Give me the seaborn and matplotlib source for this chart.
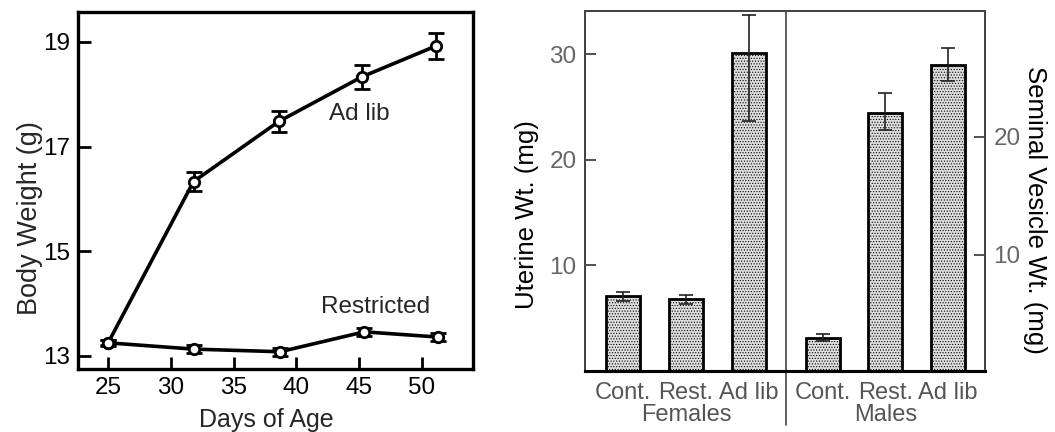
import numpy as np
import pandas as pd
import matplotlib
matplotlib.use("Agg")
import matplotlib.pyplot as plt
import matplotlib.transforms as mtransforms
import seaborn as sns

# ---------------- data ----------------
days_adlib = [25, 31.8, 38.6, 45.2, 51.1]
wt_adlib = [13.25, 16.33, 17.48, 18.33, 18.92]
err_adlib = [0.05, 0.18, 0.2, 0.23, 0.25]

days_restr = [25, 31.8, 38.7, 45.4, 51.3]
wt_restr = [13.25, 13.13, 13.08, 13.46, 13.36]
err_restr = [0.06, 0.08, 0.08, 0.08, 0.08]

body_yticks = [13, 15, 17, 19]
body_xticks = [25, 30, 35, 40, 45, 50]

groups = ["Cont.", "Rest.", "Ad lib"]
female_uterine = [7.05, 6.75, 30.1]
female_lo = [6.6, 6.35, 23.65]
female_hi = [7.5, 7.2, 33.7]
male_sv = [2.98, 21.98, 26.06]
male_lo = [2.73, 20.57, 24.65]
male_hi = [3.33, 23.7, 27.47]
uterine_ticks = [10, 20, 30]
sv_ticks = [10, 20]

# ---------------- style ----------------
sns.set_theme(style="ticks")
plt.rcParams["font.family"] = ["Liberation Sans", "DejaVu Sans"]
plt.rcParams["hatch.color"] = "#a0a0a0"
plt.rcParams["hatch.linewidth"] = 0.5

fig = plt.figure(figsize=(10.55, 4.32), dpi=100)

# ---------------- left: body weight ----------------
ax = fig.add_axes([78 / 1055, 1 - 369 / 432, 395 / 1055, 357 / 432])
df_a = pd.DataFrame({"day": days_adlib, "wt": wt_adlib})
df_r = pd.DataFrame({"day": days_restr, "wt": wt_restr})
for df, err in ((df_a, err_adlib), (df_r, err_restr)):
    ax.errorbar(df["day"], df["wt"], yerr=err, fmt="none", ecolor="black",
                elinewidth=2.0, capsize=5.5, capthick=2.0, zorder=2)
    sns.lineplot(data=df, x="day", y="wt", ax=ax, color="black", linewidth=2.6,
                 marker="o", markersize=7.5, markerfacecolor="white",
                 markeredgecolor="black", markeredgewidth=2.0, zorder=3)
ax.set_xlim(22.6, 54.06)
ax.set_ylim(12.75, 19.57)
ax.set_xticks(body_xticks)
ax.set_yticks(body_yticks)
ax.set_yticklabels([str(t) for t in body_yticks])
ax.tick_params(direction="in", length=9, width=2, labelsize=17.5, colors="black", pad=6)
for s in ax.spines.values():
    s.set_linewidth(2.4)
    s.set_color("black")
ax.set_xlabel("Days of Age", fontsize=18, va="center")
ax.set_ylabel("Body Weight (g)", fontsize=19.5, va="center")
ax.xaxis.set_label_coords(0.478, -0.143)
ax.yaxis.set_label_coords(-0.122, 0.423)
ax.text(45.0, 17.62, "Ad lib", fontsize=17.5, ha="center", va="center")
ax.text(46.3, 13.93, "Restricted", fontsize=17.5, ha="center", va="center")

# ---------------- right: organ weights ----------------
bx = fig.add_axes([585 / 1055, 1 - 370.7 / 432, 400 / 1055, 359.7 / 432])
bx2 = bx.twinx()
female_pos = np.arange(len(groups), dtype=float)
group_gap = 1.18
male_pos = female_pos + len(groups) - 1 + group_gap
bar_w = 0.54
fill = "#dedede"

dff = pd.DataFrame({"pos": female_pos, "val": female_uterine})
dfm = pd.DataFrame({"pos": male_pos, "val": male_sv})
sns.barplot(data=dff, x="pos", y="val", ax=bx, native_scale=True, width=bar_w,
            color=fill, saturation=1, edgecolor="black", linewidth=2,
            errorbar=None)
sns.barplot(data=dfm, x="pos", y="val", ax=bx2, native_scale=True, width=bar_w,
            color=fill, saturation=1, edgecolor="black", linewidth=2,
            errorbar=None)
for p in list(bx.patches) + list(bx2.patches):
    p.set_hatch("......")

bx.errorbar(female_pos, female_uterine,
            yerr=[np.subtract(female_uterine, female_lo), np.subtract(female_hi, female_uterine)],
            fmt="none", ecolor="#222222", elinewidth=1.2, capsize=5, capthick=1.2)
bx2.errorbar(male_pos, male_sv,
             yerr=[np.subtract(male_sv, male_lo), np.subtract(male_hi, male_sv)],
             fmt="none", ecolor="#222222", elinewidth=1.2, capsize=5, capthick=1.2)

xlo, xhi = -0.61, male_pos[-1] + 0.59
bx.set_xlim(xlo, xhi)
bx2.set_xlim(xlo, xhi)
bx.set_ylim(0, 34.1)
bx2.set_ylim(0.22, 30.6)

bx.set_yticks(uterine_ticks)
bx.set_yticklabels([str(t) for t in uterine_ticks])
bx2.set_yticks(sv_ticks)
bx2.set_yticklabels([str(t) for t in sv_ticks])
bx.tick_params(axis="y", direction="in", length=8, width=1.2, labelsize=17.5,
               colors="#333333", labelcolor="#666666", pad=6)
bx2.tick_params(axis="y", direction="in", length=8, width=1.2, labelsize=17.5,
                colors="#333333", labelcolor="#666666", pad=6)
bx.set_xticks(np.concatenate([female_pos, male_pos]))
bx.set_xticklabels(groups + groups)
bx.tick_params(axis="x", length=0, labelsize=17, labelcolor="#555555", pad=8)
bx2.tick_params(axis="x", length=0)

for a in (bx, bx2):
    for name, s in a.spines.items():
        s.set_color("#444444")
        s.set_linewidth(1.3)
    a.spines["bottom"].set_color("black")
    a.spines["bottom"].set_linewidth(2.2)

divider = (female_pos[-1] + male_pos[0]) / 2
bx.axvline(divider, ymin=-0.15, ymax=1, color="#444444", linewidth=1.2, clip_on=False)

trans = mtransforms.blended_transform_factory(bx.transData, bx.transAxes)
bx.text(female_pos.mean(), -0.123, "Females", transform=trans, ha="center",
        va="center", fontsize=17, color="#555555")
bx.text(male_pos.mean(), -0.123, "Males", transform=trans, ha="center",
        va="center", fontsize=17, color="#555555")

bx.set_xlabel("")
bx2.set_xlabel("")
bx.set_ylabel("Uterine Wt. (mg)", fontsize=18.5, va="center", color="black")
bx.yaxis.set_label_coords(-0.145, 0.434)
bx2.set_ylabel("Seminal Vesicle Wt. (mg)", fontsize=18.5, rotation=270,
               va="center", ha="center", color="black")
bx2.yaxis.set_label_coords(1.125, 0.447)

fig.savefig("out.png", dpi=100)
